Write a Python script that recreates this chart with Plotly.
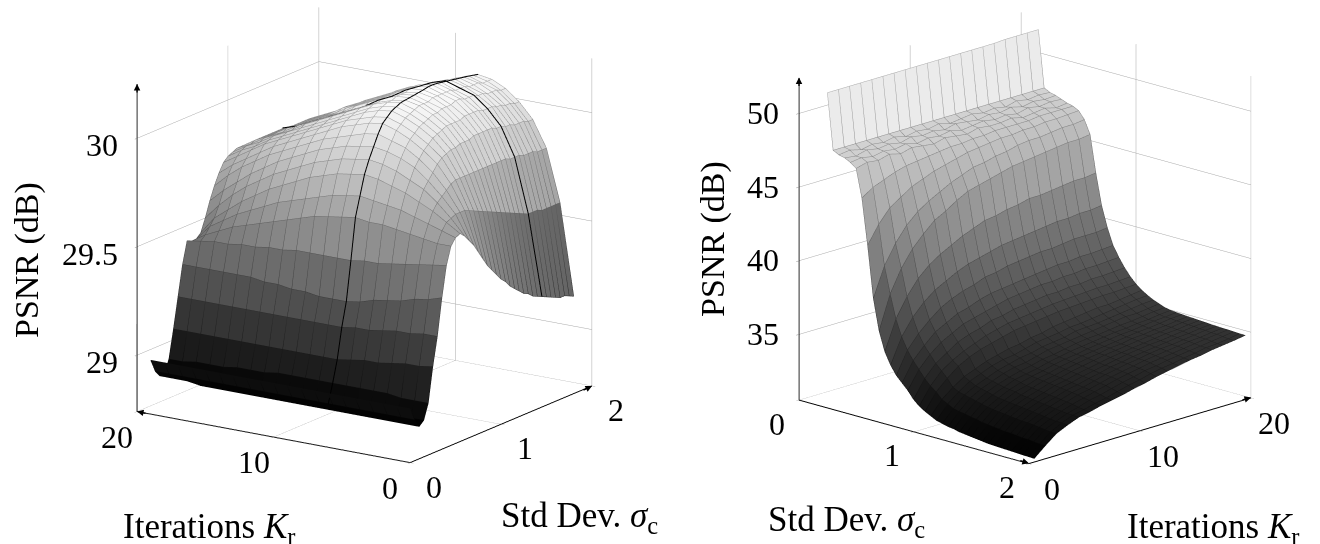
import plotly.graph_objects as go

iterations = list(range(1, 21))
sigma_left = [0.15,0.20,0.25,0.30,0.35,0.40,0.45,0.50,0.55,0.60,0.65,0.70,0.75,0.80,0.85,0.90,0.95,1.00,1.05,1.10,1.15,1.20,1.25,1.30,1.35,1.40,1.45,1.50,1.55,1.60,1.65,1.70,1.75,1.80,1.85,1.90,1.95]
sigma_right = list(sigma_left)

psnr_left = [
[28.95,28.95,28.95,28.95,28.95,28.95,28.95,28.95,28.95,28.95,28.95,28.95,28.95,28.95,28.95,28.95,28.95,28.95,28.95,28.95],
[28.89,28.89,28.89,28.89,28.89,28.89,28.89,28.89,28.89,28.89,28.89,28.89,28.89,28.89,28.89,28.89,28.89,28.89,28.89,28.89],
[28.85,28.85,28.85,28.85,28.85,28.85,28.85,28.85,28.85,28.85,28.85,28.85,28.85,28.85,28.85,28.85,28.85,28.86,28.86,28.86],
[28.87,28.87,28.87,28.87,28.87,28.86,28.86,28.86,28.86,28.86,28.86,28.86,28.86,28.86,28.86,28.86,28.86,28.86,28.86,28.86],
[28.94,28.94,28.94,28.95,28.95,28.95,28.95,28.95,28.95,28.95,28.95,28.95,28.94,28.94,28.94,28.93,28.93,28.93,28.92,28.92],
[29.10,29.09,29.09,29.08,29.07,29.07,29.06,29.05,29.05,29.05,29.05,29.05,29.05,29.05,29.05,29.05,29.05,29.05,29.05,29.05],
[29.23,29.23,29.22,29.22,29.21,29.20,29.20,29.19,29.19,29.19,29.19,29.19,29.19,29.19,29.19,29.19,29.19,29.19,29.19,29.19],
[29.40,29.38,29.37,29.35,29.34,29.33,29.31,29.30,29.30,29.30,29.31,29.31,29.32,29.32,29.33,29.33,29.33,29.33,29.33,29.33],
[29.54,29.53,29.52,29.51,29.50,29.49,29.49,29.48,29.48,29.48,29.48,29.48,29.47,29.47,29.46,29.46,29.45,29.45,29.44,29.43],
[29.62,29.62,29.63,29.64,29.65,29.66,29.66,29.67,29.66,29.65,29.64,29.62,29.60,29.58,29.56,29.54,29.52,29.49,29.46,29.42],
[29.65,29.67,29.69,29.71,29.73,29.74,29.75,29.76,29.75,29.74,29.72,29.70,29.68,29.66,29.63,29.60,29.57,29.53,29.49,29.42],
[29.66,29.70,29.74,29.77,29.80,29.82,29.84,29.85,29.84,29.83,29.81,29.79,29.76,29.73,29.70,29.66,29.62,29.57,29.52,29.44],
[29.64,29.71,29.77,29.82,29.85,29.88,29.90,29.91,29.90,29.89,29.87,29.85,29.82,29.79,29.76,29.72,29.68,29.63,29.57,29.50],
[29.61,29.72,29.79,29.85,29.90,29.93,29.95,29.96,29.95,29.94,29.92,29.90,29.87,29.84,29.81,29.77,29.73,29.68,29.63,29.57],
[29.58,29.72,29.81,29.88,29.93,29.97,29.99,30.01,30.00,29.98,29.96,29.94,29.91,29.88,29.85,29.82,29.78,29.74,29.69,29.63],
[29.54,29.72,29.83,29.91,29.96,30.00,30.03,30.05,30.04,30.02,30.00,29.97,29.94,29.91,29.88,29.85,29.81,29.77,29.73,29.68],
[29.50,29.71,29.84,29.93,29.98,30.02,30.05,30.07,30.06,30.04,30.02,29.99,29.96,29.93,29.90,29.87,29.84,29.80,29.76,29.72],
[29.46,29.70,29.84,29.94,30.00,30.04,30.07,30.09,30.08,30.06,30.03,30.00,29.97,29.94,29.91,29.88,29.85,29.81,29.78,29.74],
[29.43,29.69,29.84,29.95,30.01,30.05,30.08,30.10,30.09,30.07,30.04,30.01,29.98,29.95,29.92,29.89,29.86,29.82,29.79,29.75],
[29.40,29.68,29.84,29.95,30.02,30.06,30.09,30.11,30.10,30.08,30.05,30.02,29.99,29.96,29.93,29.89,29.86,29.83,29.79,29.76],
[29.37,29.67,29.84,29.96,30.03,30.07,30.10,30.113,30.10,30.08,30.05,30.02,29.99,29.96,29.93,29.90,29.86,29.83,29.80,29.76],
[29.35,29.66,29.84,29.96,30.03,30.07,30.10,30.116,30.11,30.09,30.06,30.03,29.99,29.96,29.93,29.90,29.87,29.83,29.80,29.76],
[29.32,29.65,29.84,29.96,30.03,30.08,30.10,30.119,30.11,30.09,30.06,30.03,30.00,29.96,29.93,29.90,29.87,29.83,29.80,29.76],
[29.30,29.64,29.84,29.97,30.03,30.08,30.11,30.122,30.11,30.09,30.06,30.03,30.00,29.96,29.93,29.90,29.87,29.83,29.80,29.76],
[29.28,29.63,29.84,29.97,30.04,30.08,30.11,30.125,30.12,30.09,30.06,30.03,30.00,29.97,29.93,29.90,29.87,29.83,29.80,29.76],
[29.26,29.62,29.84,29.97,30.04,30.09,30.11,30.13,30.12,30.09,30.06,30.03,30.00,29.97,29.93,29.90,29.87,29.83,29.80,29.76],
[29.25,29.61,29.84,29.97,30.04,30.09,30.11,30.13,30.12,30.09,30.06,30.03,30.00,29.96,29.93,29.90,29.87,29.83,29.80,29.76],
[29.23,29.60,29.84,29.97,30.04,30.08,30.11,30.128,30.11,30.09,30.06,30.02,29.99,29.96,29.92,29.89,29.86,29.83,29.79,29.76],
[29.22,29.59,29.83,29.96,30.03,30.08,30.10,30.124,30.11,30.08,30.05,30.02,29.99,29.95,29.92,29.89,29.85,29.82,29.79,29.76],
[29.21,29.58,29.83,29.96,30.03,30.08,30.10,30.12,30.10,30.07,30.04,30.00,29.97,29.93,29.90,29.87,29.84,29.81,29.78,29.76],
[29.20,29.58,29.83,29.95,30.03,30.07,30.10,30.116,30.10,30.07,30.04,30.00,29.97,29.93,29.90,29.87,29.84,29.81,29.78,29.76],
[29.19,29.58,29.82,29.95,30.02,30.07,30.09,30.112,30.09,30.06,30.03,30.00,29.96,29.93,29.90,29.87,29.84,29.80,29.78,29.75],
[29.18,29.57,29.82,29.94,30.02,30.06,30.09,30.108,30.09,30.06,30.03,29.99,29.96,29.92,29.89,29.86,29.83,29.80,29.77,29.75],
[29.17,29.57,29.82,29.94,30.01,30.06,30.09,30.104,30.08,30.05,30.02,29.99,29.95,29.92,29.89,29.86,29.83,29.80,29.77,29.75],
[29.17,29.57,29.81,29.94,30.01,30.06,30.08,30.10,30.08,30.05,30.02,29.98,29.95,29.92,29.88,29.85,29.82,29.79,29.76,29.74],
[29.16,29.57,29.81,29.93,30.00,30.05,30.08,30.095,30.07,30.04,30.01,29.98,29.94,29.91,29.88,29.85,29.82,29.79,29.76,29.74],
[29.15,29.57,29.81,29.93,30.00,30.05,30.08,30.09,30.07,30.04,30.01,29.98,29.94,29.91,29.88,29.85,29.82,29.79,29.76,29.74],
]

psnr_right = [
[51.5,51.5,51.5,51.5,51.5,51.5,51.5,51.5,51.5,51.5,51.5,51.5,51.5,51.5,51.5,51.5,51.55,51.55,51.55,51.55],
[47.7,47.7,47.7,47.7,47.7,47.7,47.7,47.7,47.7,47.7,47.7,47.7,47.7,47.7,47.7,47.7,47.7,47.7,47.7,47.7],
[47.5,47.6,47.4,47.55,47.45,47.6,47.4,47.55,47.45,47.6,47.4,47.5,47.6,47.45,47.55,47.4,47.6,47.45,47.55,47.5],
[47.4,47.3,47.5,47.35,47.45,47.3,47.5,47.35,47.45,47.3,47.5,47.4,47.3,47.45,47.35,47.5,47.3,47.45,47.35,47.4],
[47.2,47.3,47.15,47.3,47.2,47.35,47.15,47.3,47.2,47.35,47.15,47.25,47.35,47.2,47.3,47.15,47.35,47.2,47.3,47.25],
[46.9,47.1,47.0,47.2,47.0,47.2,47.1,47.0,47.2,47.1,47.0,47.2,47.1,47.1,47.2,47.0,47.1,47.2,47.0,47.1],
[45.0,45.5,45.8,46.1,46.3,46.4,46.5,46.6,46.7,46.7,46.8,46.8,46.9,46.9,46.9,46.9,47.0,47.0,47.0,47.0],
[41.9,43.1,44.0,44.5,45.0,45.3,45.6,45.8,46.0,46.2,46.3,46.4,46.5,46.5,46.6,46.6,46.7,46.7,46.75,46.8],
[38.4,40.4,41.7,42.7,43.4,43.9,44.3,44.7,45.0,45.3,45.4,45.6,45.7,45.9,46.0,46.0,46.1,46.2,46.2,46.3],
[36.3,38.6,40.1,41.2,42.0,42.7,43.1,43.6,44.0,44.2,44.4,44.6,44.8,44.9,45.0,45.1,45.2,45.3,45.3,45.4],
[35.0,37.0,38.3,39.3,40.0,40.5,40.9,41.3,41.6,41.9,42.0,42.2,42.3,42.5,42.5,42.6,42.7,42.8,42.8,42.9],
[34.2,35.9,37.0,37.8,38.4,38.8,39.2,39.5,39.7,39.9,40.1,40.2,40.3,40.4,40.5,40.6,40.6,40.7,40.7,40.8],
[33.6,35.1,36.0,36.7,37.3,37.7,38.0,38.2,38.5,38.6,38.8,38.9,39.0,39.1,39.1,39.2,39.3,39.3,39.3,39.4],
[33.2,34.5,35.3,36.0,36.4,36.8,37.0,37.3,37.5,37.6,37.7,37.8,37.9,38.0,38.1,38.1,38.2,38.2,38.25,38.3],
[32.8,34.0,34.8,35.4,35.8,36.2,36.4,36.6,36.8,37.0,37.1,37.2,37.3,37.3,37.4,37.4,37.5,37.5,37.55,37.6],
[32.3,33.5,34.3,34.8,35.3,35.6,35.8,36.1,36.2,36.4,36.5,36.6,36.7,36.7,36.8,36.8,36.9,36.9,36.95,37.0],
[31.95,33.1,33.9,34.4,34.8,35.1,35.4,35.6,35.8,35.9,36.0,36.1,36.2,36.25,36.3,36.35,36.4,36.4,36.45,36.5],
[31.7,32.8,33.5,34.1,34.5,34.8,35.0,35.2,35.4,35.5,35.6,35.7,35.8,35.85,35.9,35.95,36.0,36.0,36.05,36.1],
[31.5,32.4,33.0,33.5,33.8,34.1,34.3,34.5,34.6,34.8,34.9,35.1,35.2,35.3,35.4,35.5,35.5,35.6,35.7,35.8],
[31.3,32.2,32.8,33.3,33.6,33.9,34.1,34.2,34.4,34.6,34.7,34.8,34.95,35.0,35.1,35.2,35.3,35.4,35.5,35.55],
[31.2,32.0,32.7,33.1,33.4,33.7,33.9,34.1,34.2,34.4,34.5,34.6,34.8,34.85,34.9,35.0,35.1,35.2,35.3,35.35],
[31.1,31.9,32.6,33.0,33.3,33.6,33.8,33.9,34.1,34.3,34.4,34.5,34.6,34.7,34.8,34.9,35.0,35.0,35.1,35.2],
[31.05,31.85,32.5,32.9,33.2,33.45,33.65,33.8,34.0,34.1,34.25,34.4,34.5,34.55,34.65,34.75,34.8,34.9,35.0,35.05],
[30.95,31.75,32.4,32.8,33.1,33.4,33.55,33.7,33.9,34.05,34.2,34.3,34.4,34.5,34.6,34.65,34.75,34.8,34.9,34.97],
[30.9,31.7,32.3,32.7,33.05,33.3,33.5,33.65,33.85,34.0,34.1,34.25,34.35,34.45,34.55,34.6,34.7,34.8,34.85,34.93],
[30.85,31.6,32.25,32.65,33.0,33.2,33.45,33.6,33.8,33.95,34.1,34.2,34.3,34.4,34.5,34.6,34.65,34.75,34.85,34.9],
[30.8,31.55,32.2,32.6,32.9,33.15,33.4,33.55,33.75,33.9,34.05,34.15,34.3,34.35,34.5,34.55,34.65,34.7,34.8,34.87],
[30.75,31.5,32.15,32.55,32.85,33.1,33.35,33.5,33.7,33.85,34.0,34.15,34.25,34.35,34.45,34.55,34.6,34.7,34.8,34.85],
[30.7,31.45,32.1,32.5,32.8,33.05,33.3,33.45,33.65,33.8,33.95,34.1,34.2,34.3,34.4,34.5,34.6,34.65,34.75,34.82],
[30.68,31.4,32.05,32.45,32.75,33.0,33.25,33.4,33.6,33.75,33.9,34.05,34.2,34.3,34.4,34.45,34.55,34.65,34.75,34.8],
[30.66,31.4,32.0,32.4,32.7,32.95,33.2,33.35,33.55,33.7,33.9,34.0,34.15,34.25,34.35,34.45,34.55,34.6,34.7,34.77],
[30.64,31.35,32.0,32.35,32.65,32.9,33.15,33.3,33.5,33.7,33.85,34.0,34.1,34.25,34.35,34.4,34.5,34.6,34.7,34.75],
[30.62,31.3,31.95,32.3,32.6,32.85,33.1,33.25,33.45,33.65,33.8,33.95,34.1,34.2,34.3,34.4,34.5,34.55,34.65,34.73],
[30.6,31.3,31.9,32.25,32.55,32.8,33.0,33.2,33.4,33.6,33.75,33.9,34.05,34.15,34.25,34.35,34.45,34.55,34.65,34.72],
[30.58,31.25,31.85,32.2,32.5,32.7,32.95,33.1,33.3,33.5,33.65,33.85,33.95,34.1,34.2,34.3,34.4,34.5,34.6,34.7],
[30.57,31.2,31.8,32.2,32.5,32.65,32.85,33.0,33.2,33.4,33.55,33.75,33.9,34.0,34.15,34.25,34.4,34.45,34.55,34.68],
[30.55,31.2,31.8,32.15,32.45,32.6,32.8,32.95,33.1,33.3,33.45,33.65,33.8,33.95,34.1,34.2,34.35,34.45,34.55,34.67],
]

k_ticks = [0, 10, 20]
sigma_ticks = [0, 1, 2]
z_ticks_left = [29, 29.5, 30]
z_ticks_right = [35, 40, 45, 50]
highlight_sigma = 1.60
highlight_k = 8

FONT = "Liberation Serif"
GREY = "#a8a8a8"


def surface(sig, ks, table, cmin, cmax, scene):
    ni, nj = len(sig), len(ks)
    xs, ys, zs = [], [], []
    for a in range(ni):
        for b in range(nj):
            xs.append(sig[a]); ys.append(ks[b]); zs.append(table[a][b])
    ii, jj, kk, cell = [], [], [], []
    for a in range(ni - 1):
        for b in range(nj - 1):
            p = a * nj + b
            q, r, s = p + 1, p + nj, p + nj + 1
            m = (table[a][b] + table[a][b + 1] + table[a + 1][b] + table[a + 1][b + 1]) / 4
            ii += [p, p]; jj += [q, s]; kk += [s, r]; cell += [m, m]
    return go.Mesh3d(x=xs, y=ys, z=zs, i=ii, j=jj, k=kk, intensity=cell, intensitymode="cell",
                     cmin=cmin, cmax=cmax, colorscale=[[0, "#000000"], [1, "#ffffff"]],
                     showscale=False, flatshading=True, hoverinfo="skip", scene=scene,
                     lighting=dict(ambient=1, diffuse=0, specular=0, roughness=1, fresnel=0))


def lifted(seq, eye, zspan, eps):
    # slide along the (orthographic) line of sight so lines sit on top of the mesh without moving on screen
    return [None if p is None else (p[0] + eps * eye[0] * 2, p[1] + eps * eye[1] * 20, p[2] + eps * eye[2] * zspan) for p in seq]


def grid_lines(sig, ks, table, eye, zspan, scene, cmin, cmax):
    seq = []
    for a in range(len(sig)):
        seq += [(sig[a], ks[b], table[a][b]) for b in range(len(ks))] + [None]
    for b in range(len(ks)):
        seq += [(sig[a], ks[b], table[a][b]) for a in range(len(sig))] + [None]
    shade = [p[2] if p else cmin for p in seq]
    seq = lifted(seq, eye, zspan, 0.025)
    return go.Scatter3d(x=[p[0] if p else None for p in seq], y=[p[1] if p else None for p in seq],
                        z=[p[2] if p else None for p in seq], mode="lines",
                        line=dict(color=shade, cmin=cmin, cmax=cmax, colorscale=[[0, "#000000"], [1, "#aaaaaa"]], width=1),
                        hoverinfo="skip", showlegend=False, scene=scene)


def path(points, eye, zspan, scene, eps):
    seq = lifted(points, eye, zspan, eps)
    return go.Scatter3d(x=[p[0] for p in seq], y=[p[1] for p in seq], z=[p[2] for p in seq], mode="lines",
                        line=dict(color="black", width=2), hoverinfo="skip", showlegend=False, scene=scene)


def axis(vals, rng):
    return dict(range=rng, tickvals=vals, title=dict(text=""), showgrid=True, gridcolor=GREY, gridwidth=1,
                showline=True, linecolor="black", linewidth=2, ticks="outside", ticklen=4, tickcolor="#888888",
                showticklabels=False, showbackground=False, zeroline=False, showspikes=False, autorange=False)


def arrow(x, y, z, ax, ay):
    return dict(x=x, y=y, z=z, text="", showarrow=True, arrowhead=2, arrowsize=1, arrowwidth=1.3,
                arrowcolor="black", ax=ax, ay=ay)


def tick(x, y, z, text, dx, dy, anchor="center"):
    return dict(x=x, y=y, z=z, text=text, showarrow=False, xshift=dx, yshift=-dy, xanchor=anchor, yanchor="middle",
                font=dict(family=FONT, size=32, color="black"))


d = 1.36
eye_l = (-0.799, -0.532, 0.281)
eye_r = (0.666, -0.689, 0.286)
zr_l = [28.74, 30.25]
zr_r = [30.54, 52.4]
span_l = zr_l[1] - zr_l[0]

fig = go.Figure()
fig.add_trace(surface(sigma_left, iterations, psnr_left, 28.85, 30.14, "scene"))
fig.add_trace(grid_lines(sigma_left, iterations, psnr_left, eye_l, span_l, "scene", 28.85, 30.14))
row = sigma_left.index(highlight_sigma)
col = iterations.index(highlight_k)
fig.add_trace(path([(highlight_sigma, iterations[b], psnr_left[row][b]) for b in range(col + 1)], eye_l, span_l, "scene", 0.09))
fig.add_trace(path([(highlight_sigma, iterations[b], psnr_left[row][b]) for b in range(col, len(iterations))], eye_l, span_l, "scene", 0.29))
fig.add_trace(path([(sigma_left[a], highlight_k, psnr_left[a][col]) for a in range(3, len(sigma_left))], eye_l, span_l, "scene", 0.09))
fig.add_trace(surface(sigma_right, iterations, psnr_right, 30.55, 51.3, "scene2"))
fig.add_trace(grid_lines(sigma_right, iterations, psnr_right, eye_r, zr_r[1] - zr_r[0], "scene2", 30.55, 51.3))

titles = [("PSNR (dB)", 27, 260, -90, 34), ("Iterations <i>K</i><sub>r</sub>", 209, 528, 0, 35), ("Std Dev. <i>σ</i><sub>c</sub>", 579, 517, 0, 35),
          ("PSNR (dB)", 713, 239, -90, 34), ("Std Dev. <i>σ</i><sub>c</sub>", 846, 521, 0, 35), ("Iterations <i>K</i><sub>r</sub>", 1213, 528, 0, 35)]

ann_l = [arrow(2, 0, zr_l[0], -10, 5), arrow(0, 20, zr_l[0], 10, 2), arrow(0, 20, zr_l[1], 0, 10)]
ann_l += [tick(0, 20, v, str(v), -17, 7, "right") for v in z_ticks_left]
ann_l += [tick(0, v, zr_l[0], str(v), -20, 25) for v in k_ticks]
ann_l += [tick(v, 0, zr_l[0], str(v), 24, 24) for v in sigma_ticks]
ann_r = [arrow(2, 0, zr_r[0], -10, -3), arrow(2, 20, zr_r[0], -10, 3), arrow(0, 0, zr_r[1], 0, 10)]
ann_r += [tick(0, 0, v, str(v), -18, 0, "right") for v in z_ticks_right]
ann_r += [tick(v, 0, zr_r[0], str(v), -22, 24) for v in sigma_ticks]
ann_r += [tick(2, v, zr_r[0], str(v), 23, 26) for v in k_ticks]

fig.update_layout(
    width=1320, height=544, margin=dict(l=0, r=0, t=0, b=0), paper_bgcolor="white", showlegend=False,
    font=dict(family=FONT, color="black"),
    scene=dict(
        domain=dict(x=[0, 0.5523], y=[0.136, 1]),
        aspectmode="manual", aspectratio=dict(x=1.396, y=1.396, z=1.452),
        camera=dict(eye=dict(x=eye_l[0] * d, y=eye_l[1] * d, z=eye_l[2] * d), center=dict(x=0, y=0, z=0),
                    up=dict(x=0, y=0, z=1), projection=dict(type="orthographic")),
        xaxis=axis(sigma_ticks, [0, 2]), yaxis=axis(k_ticks, [0, 20]), zaxis=axis(z_ticks_left, zr_l),
        annotations=ann_l,
    ),
    scene2=dict(
        domain=dict(x=[0.553, 1], y=[0.1314, 0.9954]),
        aspectmode="manual", aspectratio=dict(x=1.36, y=1.36, z=1.43),
        camera=dict(eye=dict(x=eye_r[0] * d, y=eye_r[1] * d, z=eye_r[2] * d), center=dict(x=0, y=0, z=0),
                    up=dict(x=0, y=0, z=1), projection=dict(type="orthographic")),
        xaxis=axis(sigma_ticks, [0, 2]), yaxis=axis(k_ticks, [0, 20]), zaxis=axis(z_ticks_right, zr_r),
        annotations=ann_r,
    ),
    annotations=[dict(text=t, x=x / 1320, y=1 - y / 544, xref="paper", yref="paper", showarrow=False,
                      textangle=a, xanchor="center", yanchor="middle",
                      font=dict(size=s, family=FONT, color="black")) for t, x, y, a, s in titles],
)
fig.write_html("out.html", config=dict(displayModeBar=False), post_script="document.body.style.margin='0';")
